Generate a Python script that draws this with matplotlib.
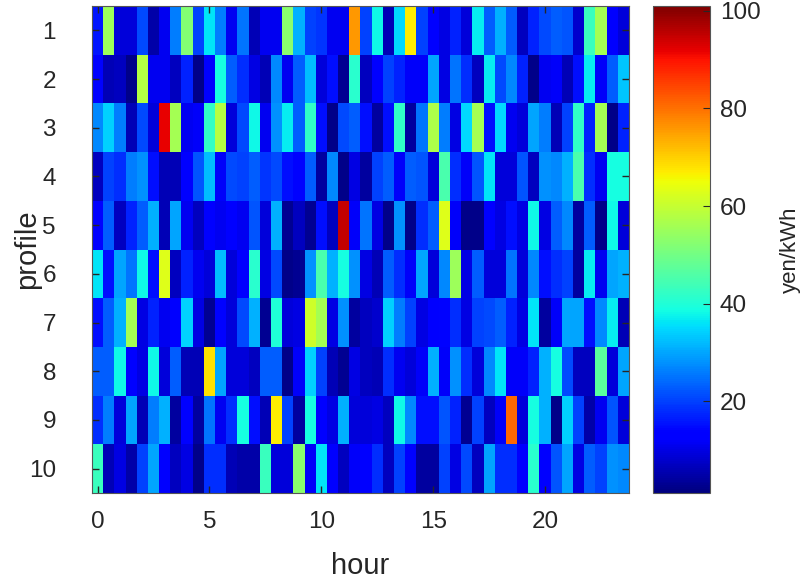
import numpy as np
import matplotlib
matplotlib.use("Agg")
import matplotlib.pyplot as plt

plt.rcParams['font.family'] = ['Liberation Sans', 'DejaVu Sans']

# half-hour slots, profiles 1..10
hours = np.arange(0, 24, 0.5)
profiles = np.arange(1, 11)

# price in yen/kWh (one row per profile)
p1 = [16, 55, 9, 9, 21, 5, 11, 26, 52, 20, 36, 26, 11, 25, 6, 11, 11, 53, 31, 20, 19, 11, 11, 76,
      20, 38, 6, 35, 67, 20, 13, 10, 17, 9, 37, 23, 31, 23, 7, 17, 21, 23, 22, 8, 43, 56, 13, 9]
p2 = [14, 6, 7, 2, 58, 11, 11, 7, 17, 2, 13, 39, 23, 18, 10, 6, 27, 11, 23, 32, 9, 15, 3, 41,
      7, 13, 20, 17, 12, 12, 30, 10, 25, 18, 7, 37, 21, 27, 17, 2, 11, 12, 6, 15, 37, 12, 23, 33]
p3 = [27, 34, 26, 6, 21, 9, 92, 56, 11, 12, 42, 58, 9, 21, 38, 11, 28, 37, 23, 42, 15, 2, 21, 23,
      15, 4, 15, 42, 4, 25, 57, 26, 10, 35, 56, 15, 35, 11, 9, 30, 26, 6, 20, 42, 17, 56, 2, 17]
p4 = [7, 20, 18, 26, 28, 15, 6, 6, 13, 22, 32, 12, 21, 20, 23, 19, 21, 15, 14, 23, 4, 27, 2, 10,
      4, 20, 23, 12, 23, 22, 9, 45, 18, 12, 22, 36, 9, 9, 22, 7, 28, 27, 31, 45, 18, 11, 39, 39]
p5 = [14, 23, 7, 17, 23, 31, 6, 30, 11, 7, 13, 11, 13, 11, 22, 9, 31, 3, 7, 3, 15, 7, 95, 12,
      25, 10, 2, 28, 2, 18, 23, 63, 12, 2, 2, 13, 10, 15, 10, 38, 10, 23, 27, 4, 23, 2, 38, 9]
p6 = [36, 15, 30, 25, 38, 15, 63, 7, 17, 11, 9, 32, 9, 13, 41, 10, 21, 2, 3, 28, 45, 31, 39, 28,
      10, 6, 23, 18, 12, 30, 9, 27, 55, 10, 23, 9, 9, 25, 9, 27, 15, 18, 20, 4, 37, 11, 30, 31]
p7 = [15, 23, 31, 56, 10, 17, 11, 13, 34, 10, 3, 14, 9, 21, 31, 3, 40, 9, 10, 61, 56, 10, 28, 4,
      7, 8, 34, 26, 20, 10, 13, 14, 18, 10, 20, 21, 23, 17, 10, 36, 4, 12, 30, 30, 15, 27, 37, 6]
p8 = [23, 23, 38, 14, 10, 38, 9, 23, 6, 6, 68, 30, 9, 9, 7, 23, 23, 2, 12, 34, 20, 6, 3, 10,
      7, 6, 18, 11, 9, 12, 31, 12, 28, 18, 9, 27, 36, 12, 12, 17, 31, 39, 21, 7, 7, 47, 9, 30]
p9 = [18, 26, 9, 30, 6, 26, 31, 4, 14, 4, 25, 11, 18, 39, 15, 6, 67, 20, 4, 39, 13, 10, 31, 9,
      9, 10, 7, 38, 27, 15, 15, 22, 17, 3, 20, 7, 12, 81, 9, 39, 31, 2, 34, 20, 5, 11, 22, 9]
p10 = [43, 6, 10, 5, 20, 30, 13, 7, 10, 2, 18, 18, 6, 5, 5, 43, 9, 9, 53, 12, 36, 13, 7, 12,
       13, 18, 7, 20, 14, 4, 4, 20, 10, 21, 7, 30, 18, 18, 13, 41, 13, 22, 30, 10, 23, 20, 28, 27]

price = np.array([p1, p2, p3, p4, p5, p6, p7, p8, p9, p10], dtype=float)

fig = plt.figure(figsize=(8.04, 5.8), dpi=100)
ax = fig.add_axes([92 / 804, 1 - 493 / 580, 537 / 804, 487 / 580])
cax = fig.add_axes([653 / 804, 1 - 493 / 580, 57 / 804, 487 / 580])

edges_x = np.append(hours, hours[-1] + 0.5) - 0.25
edges_y = np.append(profiles, profiles[-1] + 1) - 0.5
mesh = ax.pcolormesh(edges_x, edges_y, price, cmap='jet', vmin=1.2, vmax=101)
ax.set_xlim(-0.25, 23.75)
ax.set_ylim(10.5, 0.5)

ax.set_xticks([0, 5, 10, 15, 20])
ax.set_yticks(profiles)
ax.tick_params(direction='in', top=True, right=True, length=5, width=1,
               labelsize=17.5, colors='#262626')
ax.tick_params(axis='x', pad=13)
ax.tick_params(axis='y', pad=26)
ax.set_xlabel('hour', fontsize=21, color='#262626')
ax.set_ylabel('profile', fontsize=21, color='#262626')
ax.xaxis.set_label_coords(0.5, -0.122)
ax.yaxis.set_label_coords(-0.095, 0.5)
for s in ax.spines.values():
    s.set_color('#555555')

cb = fig.colorbar(mesh, cax=cax)
cb.set_ticks([20, 40, 60, 80, 100])
cax.tick_params(direction='in', length=5, labelsize=17.5, colors='#262626', pad=7)
cb.outline.set_edgecolor('#555555')
cb.set_label('yen/kWh', fontsize=16, color='#262626', labelpad=14)

fig.savefig('out.png', dpi=100)
